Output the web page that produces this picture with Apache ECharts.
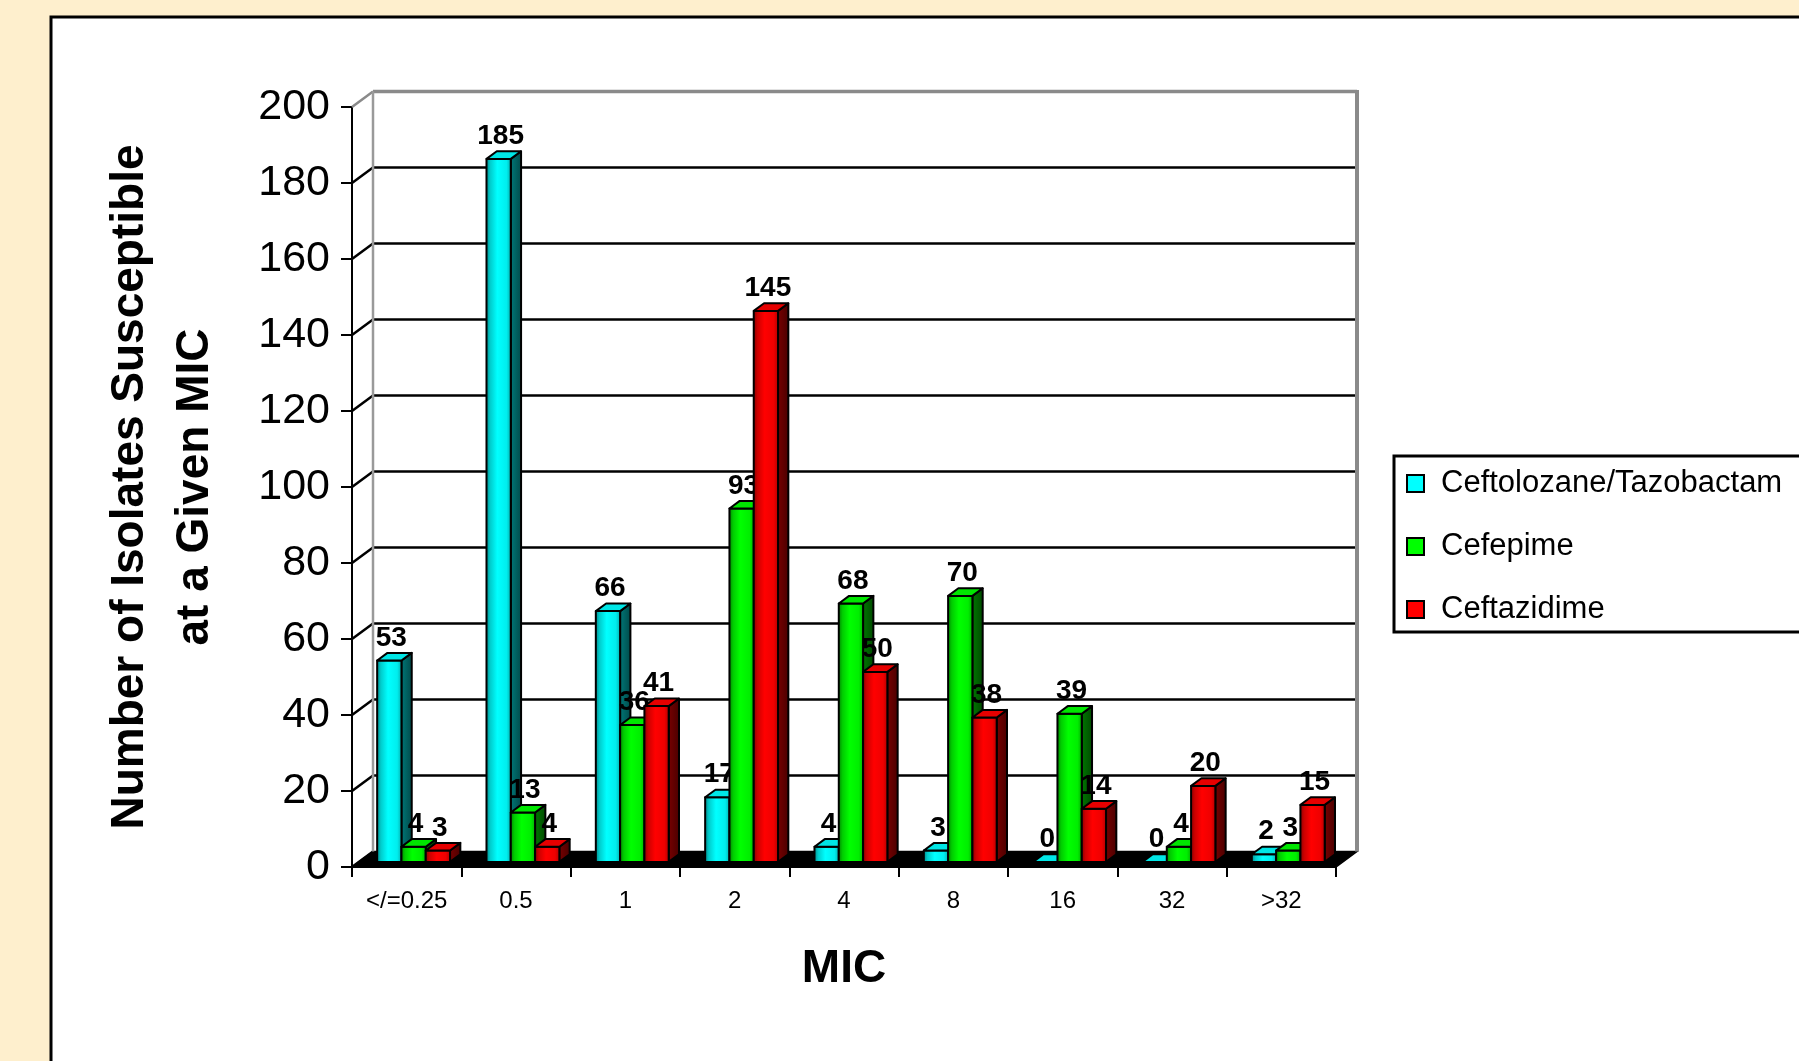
<!DOCTYPE html>
<html>
<head>
<meta charset="utf-8">
<script src="https://cdn.jsdelivr.net/npm/echarts@6/dist/echarts.min.js"></script>
<style>
  html, body { margin: 0; padding: 0; background: #FEEFCD; }
  #chart { width: 1799px; height: 1061px; }
</style>
</head>
<body>
<div id="chart"></div>
<script>
// MIC categories and number of susceptible isolates per drug
const micCategories = ['</=0.25', '0.5', '1', '2', '4', '8', '16', '32', '>32'];
const seriesNames = ['Ceftolozane/Tazobactam', 'Cefepime', 'Ceftazidime'];
const ceftolozaneTazobactam = [53, 185, 66, 17, 4, 3, 0, 0, 2];
const cefepime = [4, 13, 36, 93, 68, 70, 39, 4, 3];
const ceftazidime = [3, 4, 41, 145, 50, 38, 14, 20, 15];
const yTicks = [0, 20, 40, 60, 80, 100, 120, 140, 160, 180, 200];

const FONT = '"Liberation Sans", Arial, sans-serif';

// depth of the pseudo-3D box (back wall offset from the front plane)
const DX = 21, DY = -15.5;
// bars sit between these fractions of the depth
const BAR_FRONT = 0.33, BAR_BACK = 0.82;

// colour sets per series: front gradient, side gradient, top face
const palettes = [
  { base: '#00FFFF', front: ['#007C7C', '#00CCCC', '#00FFFF', '#00EEEE', '#00A8A8'], side: ['#007A7A', '#004848'], top: '#00E6E6' },
  { base: '#00FF00', front: ['#007C00', '#00CC00', '#00FF00', '#00EE00', '#00A800'], side: ['#007A00', '#004800'], top: '#00E600' },
  { base: '#FF0000', front: ['#7C0000', '#CC0000', '#FF0000', '#EE0000', '#A80000'], side: ['#7A0000', '#480000'], top: '#E60000' }
];

function frontGradient(c) {
  return new echarts.graphic.LinearGradient(0, 0, 1, 0, [
    { offset: 0, color: c[0] }, { offset: 0.18, color: c[1] },
    { offset: 0.45, color: c[2] }, { offset: 0.8, color: c[3] }, { offset: 1, color: c[4] }
  ]);
}
function sideGradient(c) {
  return new echarts.graphic.LinearGradient(0, 0, 1, 0, [
    { offset: 0, color: c[0] }, { offset: 1, color: c[1] }
  ]);
}

// back wall, left side wall gridlines and black floor
function renderFrame(params, api) {
  const cs = params.coordSys;
  const v = api.value(1);
  const y = api.coord([0, v])[1];
  const L = cs.x, R = cs.x + cs.width;
  const isTop = v === yTicks[yTicks.length - 1];
  const isBase = v === yTicks[0];
  const col = isTop ? '#8A8A8A' : '#000';
  const children = [];
  if (isBase) {
    children.push({
      type: 'polygon',
      shape: { points: [[L, y], [R, y], [R + DX, y + DY], [L + DX, y + DY]] },
      style: { fill: '#000', stroke: '#000', lineWidth: 1.5 }
    });
  }
  children.push({
    type: 'line',
    shape: { x1: L, y1: y, x2: L + DX, y2: y + DY },
    style: { stroke: col, lineWidth: 2.5 }
  });
  if (!isBase) {
    children.push({
      type: 'line',
      shape: { x1: L + DX, y1: y + DY, x2: R + DX, y2: y + DY },
      style: { stroke: col, lineWidth: isTop ? 3.5 : 2.5 }
    });
  }
  if (isTop) {
    const y0 = api.coord([0, yTicks[0]])[1];
    children.push({
      type: 'line',
      shape: { x1: L + DX, y1: y + DY, x2: L + DX, y2: y0 + DY },
      style: { stroke: '#9A9A9A', lineWidth: 2.5 }
    });
    children.push({
      type: 'line',
      shape: { x1: R + DX, y1: y + DY - 1.5, x2: R + DX, y2: y0 + DY },
      style: { stroke: '#8A8A8A', lineWidth: 4 }
    });
  }
  return { type: 'group', children };
}

// one pseudo-3D column with its value label
function makeBarRenderer(s) {
  const p = palettes[s];
  return function (params, api) {
    const i = api.value(0), v = api.value(1);
    const base = api.coord([i, 0]);
    const top = api.coord([i, v]);
    const band = api.size([1, 0])[0];
    const bw = band / 4.5;
    const x0 = base[0] - band / 2 + 0.75 * bw + s * bw + DX * BAR_FRONT;
    const yb = base[1] + DY * BAR_FRONT;
    const yt = top[1] + DY * BAR_FRONT;
    const sx = DX * (BAR_BACK - BAR_FRONT), sy = DY * (BAR_BACK - BAR_FRONT);
    const outline = { stroke: '#000', lineWidth: 2, lineJoin: 'round' };
    const children = [];
    if (yb - yt > 0.5) {
      children.push({
        type: 'polygon',
        shape: { points: [[x0 + bw, yt], [x0 + bw + sx, yt + sy], [x0 + bw + sx, yb + sy], [x0 + bw, yb]] },
        style: Object.assign({ fill: sideGradient(p.side) }, outline)
      });
      children.push({
        type: 'rect',
        shape: { x: x0, y: yt, width: bw, height: yb - yt },
        style: Object.assign({ fill: frontGradient(p.front) }, outline)
      });
    }
    children.push({
      type: 'polygon',
      shape: { points: [[x0, yt], [x0 + bw, yt], [x0 + bw + sx, yt + sy], [x0 + sx, yt + sy]] },
      style: Object.assign({ fill: p.top }, outline)
    });
    children.push({
      type: 'text',
      style: {
        text: String(v),
        x: x0 + bw / 2 + 2,
        y: yt + sy - 1,
        align: 'center',
        verticalAlign: 'bottom',
        fill: '#000',
        fontSize: 28,
        fontWeight: 'bold',
        fontFamily: FONT
      }
    });
    return { type: 'group', children };
  };
}

const seriesValues = [ceftolozaneTazobactam, cefepime, ceftazidime];

const chart = echarts.init(document.getElementById('chart'), null, { renderer: 'canvas' });

const option = {
  animation: false,
  backgroundColor: '#FEEFCD',
  color: palettes.map(p => p.base),
  textStyle: { fontFamily: FONT },
  graphic: [
    {
      type: 'rect', z: -100, silent: true,
      shape: { x: 51, y: 17, width: 1800, height: 1100 },
      style: { fill: '#FFFFFF', stroke: '#000', lineWidth: 3 }
    },
    {
      type: 'rect', z: 100, silent: true,
      shape: { x: 1394, y: 456, width: 460, height: 176 },
      style: { fill: 'transparent', stroke: '#000', lineWidth: 3 }
    }
  ],
  legend: {
    orient: 'vertical',
    left: 1406,
    top: 468,
    padding: 0,
    itemWidth: 17,
    itemHeight: 17,
    itemGap: 32,
    icon: 'rect',
    itemStyle: { borderColor: '#000', borderWidth: 2 },
    textStyle: { color: '#000', fontSize: 31, fontFamily: FONT, padding: [0, 0, 0, 12] },
    data: seriesNames
  },
  grid: { left: 352, top: 107, width: 984, height: 760, containLabel: false },
  xAxis: {
    type: 'category',
    data: micCategories,
    boundaryGap: true,
    axisLine: { show: true, lineStyle: { color: '#000', width: 2 } },
    axisTick: { show: true, length: 10, interval: 0, alignWithLabel: false, lineStyle: { color: '#000', width: 2 } },
    axisLabel: { interval: 0, color: '#000', fontSize: 24, margin: 22, fontFamily: FONT },
    splitLine: { show: false },
    name: 'MIC',
    nameLocation: 'middle',
    nameGap: 79,
    nameTextStyle: { color: '#000', fontSize: 46, fontWeight: 'bold', fontFamily: FONT }
  },
  yAxis: {
    type: 'value',
    min: 0,
    max: 200,
    interval: 20,
    axisLine: { show: true, lineStyle: { color: '#000', width: 2 } },
    axisTick: { show: true, length: 11, lineStyle: { color: '#000', width: 2 } },
    axisLabel: { color: '#000', fontSize: 43, margin: 22, fontFamily: FONT },
    splitLine: { show: false },
    name: 'Number of Isolates Susceptible\nat a Given MIC',
    nameLocation: 'middle',
    nameGap: 124,
    nameTextStyle: { color: '#000', fontSize: 46, fontWeight: 'bold', fontFamily: FONT, lineHeight: 65, align: 'center' }
  },
  series: [
    {
      type: 'custom',
      name: 'frame',
      z: 1,
      silent: true,
      clip: false,
      encode: { x: 0, y: 1 },
      renderItem: renderFrame,
      data: yTicks.map(v => [0, v])
    }
  ].concat(seriesValues.map((vals, s) => ({
    type: 'custom',
    name: seriesNames[s],
    z: 3 + s,
    clip: false,
    itemStyle: { color: palettes[s].base },
    encode: { x: 0, y: 1 },
    renderItem: makeBarRenderer(s),
    data: vals.map((v, i) => [i, v])
  })))
};

chart.setOption(option);
</script>
</body>
</html>
